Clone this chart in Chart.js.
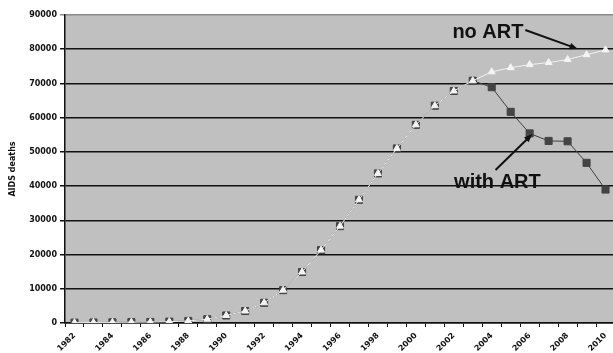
<!DOCTYPE html>
<html>
<head>
<meta charset="utf-8">
<script src="https://cdn.jsdelivr.net/npm/chart.js@4.4.1/dist/chart.umd.min.js"></script>
<style>
  html, body { margin: 0; padding: 0; background: #fff; overflow: hidden; }
  #wrap { width: 621px; height: 353px; }
</style>
</head>
<body>
<div id="wrap"><canvas id="aids"></canvas></div>
<script>
const years = [];
for (let y = 1982; y <= 2010; y++) years.push(String(y));

const noArt = [100, 150, 200, 250, 300, 400, 600, 1100, 2200, 3500, 5900, 9600, 14900, 21300,
  28300, 36000, 43700, 51000, 57900, 63500, 67800, 70800,
  73400, 74600, 75500, 76100, 77000, 78400, 79800];
const withArt = [100, 150, 200, 250, 300, 400, 600, 1100, 2200, 3500, 5900, 9600, 14900, 21300,
  28300, 36000, 43700, 51000, 57900, 63500, 67800, 70800,
  68900, 61700, 55400, 53200, 53100, 46800, 39000];

const yMax = 90000;
const yStep = 10000;

// callouts, placed in data units (category index, value)
const callouts = [
  { text: 'no ART', x: 21.8, y: 85000, from: [23.77, 85600], to: [26.54, 80100] },
  { text: 'with ART', x: 22.3, y: 41200, from: [22.2, 44700], to: [24.14, 55200] }
];

const plotBg = {
  id: 'plotBg',
  beforeDraw(chart) {
    const a = chart.chartArea, c = chart.ctx;
    c.save();
    c.fillStyle = '#c0c0c0';
    c.fillRect(a.left, a.top, a.right - a.left, a.bottom - a.top);
    c.restore();
  }
};

const calloutPlugin = {
  id: 'callouts',
  afterDatasetsDraw(chart) {
    const c = chart.ctx, xs = chart.scales.x, ys = chart.scales.y;
    c.save();
    callouts.forEach(function(o) {
      c.font = 'bold 20px "Liberation Sans", Arial, sans-serif';
      c.fillStyle = '#111';
      c.textAlign = 'center';
      c.textBaseline = 'middle';
      c.fillText(o.text, xs.getPixelForValue(o.x), ys.getPixelForValue(o.y));

      const x1 = xs.getPixelForValue(o.from[0]), y1 = ys.getPixelForValue(o.from[1]);
      const x2 = xs.getPixelForValue(o.to[0]), y2 = ys.getPixelForValue(o.to[1]);
      const ang = Math.atan2(y2 - y1, x2 - x1);
      c.strokeStyle = '#111';
      c.lineWidth = 2;
      c.beginPath();
      c.moveTo(x1, y1);
      c.lineTo(x2 - 6 * Math.cos(ang), y2 - 6 * Math.sin(ang));
      c.stroke();
      c.beginPath();
      c.moveTo(x2, y2);
      c.lineTo(x2 - 9 * Math.cos(ang - 0.38), y2 - 9 * Math.sin(ang - 0.38));
      c.lineTo(x2 - 9 * Math.cos(ang + 0.38), y2 - 9 * Math.sin(ang + 0.38));
      c.closePath();
      c.fill();
    });
    c.restore();
  }
};

const tickFont = { family: '"DejaVu Sans", sans-serif', size: 8, weight: 'bold' };

new Chart(document.getElementById('aids'), {
  type: 'line',
  data: {
    labels: years,
    datasets: [
      {
        label: 'no ART',
        data: noArt,
        borderColor: '#f2f2f2',
        borderWidth: 1,
        pointStyle: 'triangle',
        pointRadius: 4,
        pointBackgroundColor: '#f4f4f4',
        pointBorderColor: '#f4f4f4',
        pointBorderWidth: 1,
        tension: 0
      },
      {
        label: 'with ART',
        data: withArt,
        borderColor: '#404040',
        borderWidth: 1,
        pointStyle: 'rect',
        pointRadius: 5,
        pointBackgroundColor: '#444',
        pointBorderColor: '#444',
        pointBorderWidth: 1,
        tension: 0
      }
    ]
  },
  options: {
    responsive: true,
    maintainAspectRatio: false,
    animation: false,
    layout: { padding: { top: 15, left: 0, right: 0, bottom: 0 } },
    plugins: {
      legend: { display: false },
      tooltip: { enabled: false }
    },
    scales: {
      x: {
        offset: true,
        grid: { drawOnChartArea: false, offset: true, color: '#111', lineWidth: 1, tickLength: 4 },
        border: { color: '#111', width: 1.5 },
        ticks: {
          autoSkip: false,
          minRotation: 45,
          maxRotation: 45,
          color: '#111',
          font: tickFont,
          padding: 4,
          callback: function(v, i) { return i % 2 === 0 ? years[i] : ''; }
        },
        afterFit: function(s) { s.height = 30; }
      },
      y: {
        min: 0,
        max: yMax,
        ticks: {
          stepSize: yStep,
          color: '#111',
          font: tickFont,
          padding: 3,
          callback: function(v) { return String(v); }
        },
        grid: {
          color: function(ctx) { return ctx.tick && ctx.tick.value === yMax ? '#8a8a8a' : '#111'; },
          lineWidth: 1.5,
          tickLength: 5
        },
        border: { color: '#111', width: 1.5 },
        title: {
          display: true,
          text: 'AIDS deaths',
          color: '#111',
          font: { family: '"DejaVu Sans", sans-serif', size: 8, weight: 'bold' },
          padding: { top: 8, bottom: 0 }
        },
        afterFit: function(s) { s.width = 65; }
      }
    }
  },
  plugins: [plotBg, calloutPlugin]
});
</script>
</body>
</html>
